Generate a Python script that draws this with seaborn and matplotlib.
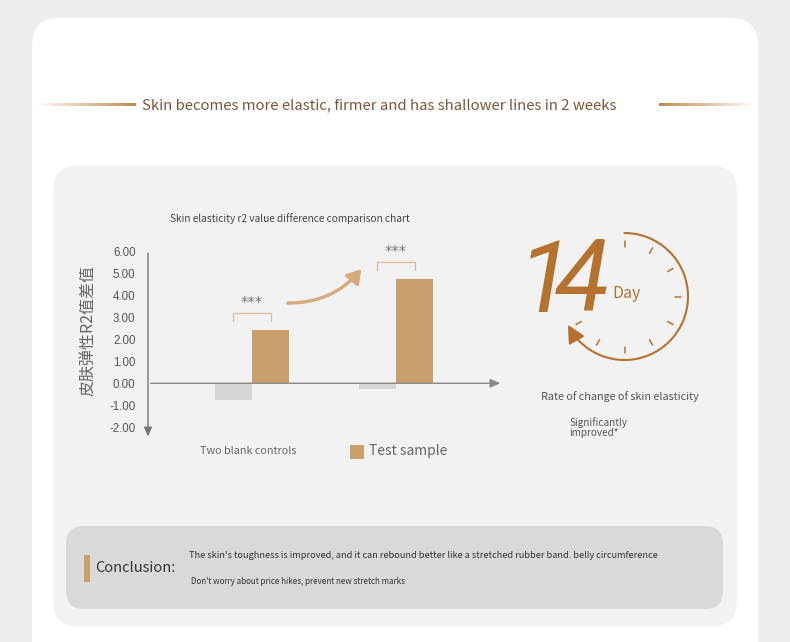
import numpy as np
import pandas as pd
import matplotlib
matplotlib.use("Agg")
import matplotlib.pyplot as plt
import seaborn as sns
from matplotlib.patches import FancyBboxPatch, Rectangle, FancyArrowPatch

# ---------------- data ----------------
groups = ["Group 1", "Group 2"]
series = ["Two blank controls", "Test sample"]
blank_values = [-0.75, -0.27]
test_values = [2.45, 4.78]
y_ticks = [6.0, 5.0, 4.0, 3.0, 2.0, 1.0, 0.0, -1.0, -2.0]
significance = ["***", "***"]

header = "Skin becomes more elastic, firmer and has shallower lines in 2 weeks"
chart_title = "Skin elasticity r2 value difference comparison chart"
y_label = "皮肤弹性R2值差值"
big_digits = ["1", "4"]
big_unit = "Day"
side_caption = "Rate of change of skin elasticity"
side_note = "Significantly\nimproved*"
concl_title = "Conclusion:"
concl_line1 = "The skin's toughness is improved, and it can rebound better like a stretched rubber band. belly circumference"
concl_line2 = "Don't worry about price hikes, prevent new stretch marks"

GRAY_BAR = "#d6d6d6"
TAN = "#c9a06c"
BROWN = "#b5722f"
TXT = "#555555"

sns.set_theme(style="white")
plt.rcParams["font.family"] = ["Noto Sans CJK SC", "DejaVu Sans"]

W, H = 790, 642
fig = plt.figure(figsize=(W / 100, H / 100), dpi=100)
fig.patch.set_facecolor("#eeeeee")

# background axes in pixel coords
bg = fig.add_axes([0, 0, 1, 1])
bg.set_xlim(0, W)
bg.set_ylim(H, 0)
bg.axis("off")
bg.set_zorder(0)

def rbox(ax, x0, y0, x1, y1, r, color, z=1):
    p = FancyBboxPatch((x0, y0), x1 - x0, y1 - y0,
                       boxstyle=f"round,pad=0,rounding_size={r}",
                       fc=color, ec="none", zorder=z)
    ax.add_patch(p)

rbox(bg, 32, 18, 758, 720, 28, "white", 1)
rbox(bg, 53, 165, 737, 627, 26, "#f2f2f2", 2)
rbox(bg, 66, 526, 723, 609, 18, "#d9d9d9", 3)

# header gradient lines
def grad_line(ax, x0, x1, y, fade_left):
    n = 256
    a = np.linspace(0, 1, n)
    if not fade_left:
        a = a[::-1]
    rgb = matplotlib.colors.to_rgb("#c4874a")
    img = np.zeros((1, n, 4))
    img[0, :, :3] = rgb
    img[0, :, 3] = a
    ax.imshow(img, extent=(x0, x1, y + 1.5, y - 1.5), aspect="auto", zorder=4,
              interpolation="bilinear")

grad_line(bg, 35, 136, 105, True)
grad_line(bg, 659, 756, 105, False)
bg.set_xlim(0, W)
bg.set_ylim(H, 0)
bg.text(379, 105, header, ha="center", va="center", fontsize=10.7,
        color="#7a5538", zorder=5)

# chart title
bg.text(290, 219, chart_title, ha="center", va="center", fontsize=7.3,
        color="#444444", zorder=5)
# y label
bg.text(89, 331, y_label, ha="center", va="center", rotation=90,
        fontsize=11.5, color="#666666", zorder=5)

# legend
bg.text(248, 451, series[0], ha="center", va="center", fontsize=7.8,
        color="#666666", zorder=5)
bg.add_patch(Rectangle((350, 445), 14, 14, fc=TAN, ec="none", zorder=5))
bg.text(369, 451, series[1], ha="left", va="center", fontsize=10,
        color="#666666", zorder=5)

# clock
cx, cy, r = 624.5, 296.5, 63.5
t = np.radians(np.linspace(90, -150, 200))
bg.plot(cx + r * np.cos(t), cy - r * np.sin(t), color=BROWN, lw=1.5, zorder=5,
        solid_capstyle="round")
tend = np.radians(-156)
tpre = np.radians(-145)
bg.annotate("", xy=(cx + r * np.cos(tend), cy - r * np.sin(tend)),
            xytext=(cx + r * np.cos(tpre), cy - r * np.sin(tpre)),
            arrowprops=dict(arrowstyle="-|>,head_length=0.9,head_width=0.45",
                            color=BROWN, lw=1.5), zorder=5)
for ang in range(90, -151, -30):
    a = np.radians(ang)
    r0, r1 = 50, 56
    bg.plot([cx + r0 * np.cos(a), cx + r1 * np.cos(a)],
            [cy - r0 * np.sin(a), cy - r1 * np.sin(a)],
            color=BROWN, lw=1.1, zorder=5)
big_font = dict(fontsize=72, fontstyle="italic", fontweight="normal",
                family=["Roboto", "DejaVu Sans"], color=BROWN, zorder=6)
bg.text(572, 284, big_digits[0], ha="right", va="center", **big_font)
bg.text(555, 284, big_digits[1], ha="left", va="center", **big_font)
bg.text(612, 294, big_unit, ha="left", va="center", fontsize=11.5,
        color=BROWN, zorder=7)
bg.text(620, 397, side_caption, ha="center", va="center", fontsize=7.8,
        color="#555555", zorder=5)
bg.text(569, 428, side_note, ha="left", va="center", fontsize=7.2,
        color="#555555", linespacing=1.0, zorder=5)

# conclusion
bg.add_patch(Rectangle((84, 555), 6, 27, fc=TAN, ec="none", zorder=5))
bg.text(95, 568, concl_title, ha="left", va="center", fontsize=10.5,
        color="#333333", zorder=5)
bg.text(189, 555, concl_line1, ha="left", va="center", fontsize=6.6,
        color="#333333", zorder=5)
bg.text(191, 581, concl_line2, ha="left", va="center", fontsize=5.8,
        color="#333333", zorder=5)

# curved arrow
bg.add_patch(FancyArrowPatch((285, 303), (363, 267),
                             connectionstyle="arc3,rad=0.25",
                             arrowstyle="-|>,head_length=8,head_width=5",
                             color="#d6aa7a", lw=2.4, zorder=5))

# ---------------- bar chart ----------------
px0, px1 = 148, 503
py_top, py_bot = 252, 427
ax = fig.add_axes([px0 / W, (H - py_bot) / H, (px1 - px0) / W, (py_bot - py_top) / H])
ax.set_zorder(3)
ax.patch.set_alpha(0)

df = pd.DataFrame({
    "group": groups * 2,
    "series": [series[0]] * 2 + [series[1]] * 2,
    "value": blank_values + test_values,
})
sns.barplot(data=df, x="group", y="value", hue="series", hue_order=series,
            palette=[GRAY_BAR, TAN], width=0.515, gap=0, ax=ax, legend=False,
            saturation=1, edgecolor="none")
ax.set_xlim(-0.722, 1.743)
ax.set_ylim(-2, 6)
for s in ax.spines.values():
    s.set_visible(False)
ax.set_xticks([])
ax.set_yticks(y_ticks)
ax.set_yticklabels([f"{v:.2f}" for v in y_ticks], color=TXT, fontsize=8.3,
                   family=["Liberation Sans", "DejaVu Sans"])
ax.tick_params(axis="y", length=0, pad=9)
ax.set_xlabel("")
ax.set_ylabel("")
ax.grid(False)

# axis lines with arrows
ax.annotate("", xy=(0, -0.07), xytext=(0, 1.01), xycoords="axes fraction",
            textcoords="axes fraction",
            arrowprops=dict(arrowstyle="-|>,head_length=0.45,head_width=0.2",
                            color="#777777", lw=1.0), annotation_clip=False)
ax.annotate("", xy=(1.0, 0), xytext=(0, 0), xycoords=("axes fraction", "data"),
            textcoords=("axes fraction", "data"),
            arrowprops=dict(arrowstyle="-|>,head_length=0.5,head_width=0.22",
                            color="#888888", lw=1.0), annotation_clip=False)

# significance brackets
offs = 0.515 / 4
for i, (g, v) in enumerate(zip(groups, test_values)):
    xc = i
    ytop = v + 0.75
    ax.plot([xc - offs, xc - offs, xc + offs, xc + offs],
            [ytop - 0.35, ytop, ytop, ytop - 0.35], color="#e0b89a", lw=0.9,
            clip_on=False)
    ax.text(xc, ytop + 0.1, significance[i], ha="center", va="bottom",
            fontsize=10.5, color="#777777", family=["DejaVu Sans"])

fig.savefig("out.png", dpi=100, facecolor=fig.get_facecolor())
